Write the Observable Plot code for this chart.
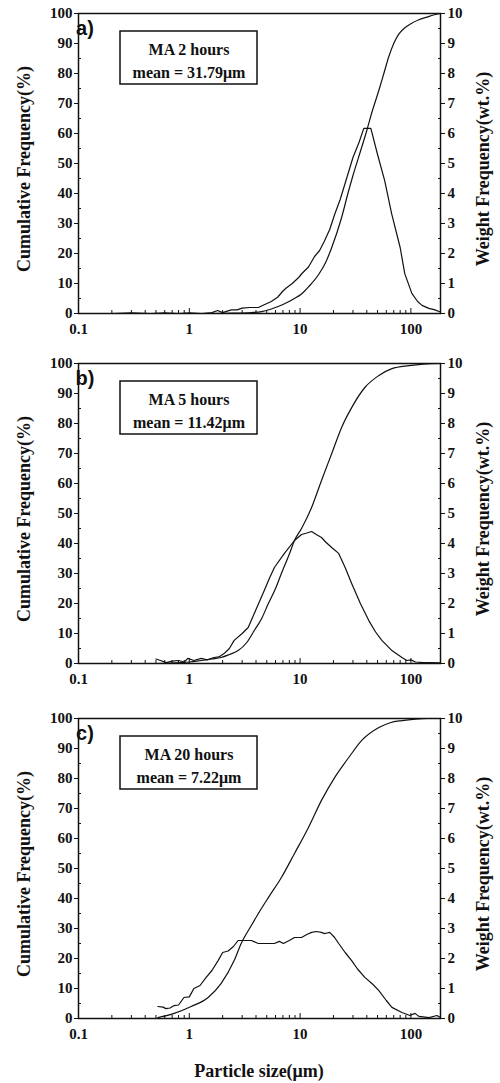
<!DOCTYPE html>
<html><head><meta charset="utf-8">
<script src="https://cdn.jsdelivr.net/npm/d3@7"></script>
<script src="https://cdn.jsdelivr.net/npm/@observablehq/plot@0.6"></script>
<style>
body{margin:0;background:#fff;}
#chart{position:relative;width:500px;height:1083px;}
#chart svg{display:block;}
</style></head><body><div id="chart"></div>
<script>
// ---- axes / ticks ----
const xDomain = [0.1, 185];
const xTicks = [0.1, 1, 10, 100];
const xMinor = [0.2,0.3,0.4,0.5,0.6,0.7,0.8,0.9,2,3,4,5,6,7,8,9,20,30,40,50,60,70,80,90];
const leftTicks = [0,10,20,30,40,50,60,70,80,90,100];
const leftMinor = [5,15,25,35,45,55,65,75,85,95];
const rightTicks = [0,1,2,3,4,5,6,7,8,9,10];

const panelLabels = ["a)", "b)", "c)"];
const panelTitles = ["MA 2 hours", "MA 5 hours", "MA 20 hours"];
const panelMeans = ["mean = 31.79\u03bcm", "mean = 11.42\u03bcm", "mean = 7.22\u03bcm"];
const yLabelLeft = "Cumulative Frequency(%)";
const yLabelRight = "Weight Frequency(wt.%)";
const xLabel = "Particle size(\u03bcm)";

// ---- panel a (2 h) ----
const cumA_x = [1.5, 2.5, 3.6, 4.5, 5.5, 7, 8.9, 10.3, 12, 14.7, 17, 19.3, 23.7, 27, 30, 35, 40, 44.4, 51, 57, 63, 70, 78, 90, 100, 118, 140, 160, 185];
const cumA_y = [0, 0.1, 0.3, 0.6, 1.5, 3, 5, 6.5, 9, 13, 17, 22, 32, 40, 46, 54, 61, 67, 74, 80, 85.5, 90, 93.2, 95.5, 96.6, 97.9, 98.8, 99.5, 100];
const wtA_x = [0.2, 0.3, 0.45, 0.6, 0.8, 1.0, 1.3, 1.6, 1.8, 2.0, 2.2, 2.4, 2.7, 3.0, 3.5, 4.2, 4.8, 5.5, 6.3, 7.0, 7.5, 8.5, 9.7, 10.5, 11.9, 13.5, 15, 16.5, 18.5, 20.5, 23, 25.3, 30, 34, 37.6, 43.5, 50, 58, 67, 80, 88, 102, 115, 126, 145, 162, 185];
const wtA_y = [0, 0.02, 0, 0.02, 0, 0.02, 0, 0.03, 0.1, 0.03, 0.08, 0.12, 0.12, 0.18, 0.2, 0.2, 0.3, 0.4, 0.55, 0.75, 0.85, 1.0, 1.2, 1.35, 1.55, 1.9, 2.1, 2.4, 2.8, 3.3, 3.8, 4.3, 5.2, 5.7, 6.17, 6.17, 5.3, 4.43, 3.33, 2.2, 1.33, 0.67, 0.4, 0.27, 0.17, 0.13, 0.05];

// ---- panel b (5 h) ----
const cumB_x = [0.5, 1.0, 1.28, 1.6, 1.94, 2.3, 2.76, 3.3, 3.86, 4.5, 5.17, 6.0, 6.78, 8.0, 8.9, 10.3, 12.7, 15.6, 19.3, 23.7, 29.2, 38.4, 51.4, 67.4, 96, 130, 185];
const cumB_y = [0, 0.5, 1, 1.5, 2, 3, 4.3, 7, 11, 15, 20, 25, 30, 36.5, 41, 45, 52, 61, 70, 78.7, 85.3, 92, 96, 98.3, 99.3, 99.8, 100];
const wtB_x = [0.5, 0.55, 0.62, 0.7, 0.8, 0.9, 0.97, 1.1, 1.28, 1.45, 1.67, 1.85, 2.06, 2.3, 2.54, 3.0, 3.4, 4.0, 4.75, 5.3, 5.86, 7.22, 8.9, 10.3, 11.5, 12.7, 14, 15.6, 17, 19.5, 22.3, 25.5, 29.2, 35, 41.7, 48, 54.7, 67.4, 83, 92, 100, 110, 130, 150, 185];
const wtB_y = [0.15, 0.1, 0.03, 0.08, 0.1, 0.05, 0.17, 0.1, 0.17, 0.12, 0.2, 0.22, 0.33, 0.5, 0.77, 1.0, 1.2, 1.8, 2.43, 2.85, 3.2, 3.67, 4.1, 4.3, 4.35, 4.4, 4.3, 4.2, 4.05, 3.85, 3.67, 3.2, 2.67, 2.0, 1.43, 1.05, 0.77, 0.43, 0.2, 0.1, 0.12, 0.05, 0.03, 0.03, 0.02];

// ---- panel c (20 h) ----
const cumC_x = [0.52, 0.73, 1.04, 1.48, 1.94, 2.54, 2.94, 3.63, 4.2, 5.17, 6.78, 8.9, 11.9, 15.6, 20.5, 27.5, 36, 51.4, 65, 83, 110, 140, 185];
const cumC_y = [0.3, 1.7, 4, 7, 11.7, 19.3, 25, 31, 35, 40.3, 47, 55, 63.7, 72.7, 80.3, 87, 92.7, 97, 98.6, 99.3, 99.8, 100, 100];
const wtC_x = [0.52, 0.58, 0.615, 0.67, 0.73, 0.8, 0.895, 1.0, 1.1, 1.25, 1.42, 1.6, 1.82, 2.0, 2.24, 2.5, 2.76, 3.0, 3.41, 3.63, 4.2, 5.0, 5.86, 6.5, 7.07, 8.0, 8.9, 10.3, 11.5, 12.7, 14, 15.6, 16.6, 17.5, 18.5, 20.5, 22.3, 25.5, 29.2, 33, 38.4, 45, 51.4, 60, 67.4, 83, 98, 109, 118, 146, 172, 184];
const wtC_y = [0.4, 0.38, 0.33, 0.35, 0.43, 0.45, 0.7, 0.72, 1.0, 1.1, 1.37, 1.6, 1.93, 2.2, 2.25, 2.4, 2.6, 2.6, 2.6, 2.6, 2.5, 2.5, 2.5, 2.57, 2.5, 2.6, 2.7, 2.7, 2.8, 2.87, 2.9, 2.87, 2.83, 2.85, 2.87, 2.7, 2.5, 2.2, 1.93, 1.65, 1.37, 1.15, 0.93, 0.6, 0.37, 0.2, 0.1, 0.17, 0.07, 0.03, 0.1, 0.03];

const SERIF = "'Liberation Serif','Times New Roman',serif";
const SANS = "'Liberation Sans',Arial,sans-serif";
const INK = "#111";
const noText = () => "";

const panels = [
  {cx: cumA_x, cy: cumA_y, wx: wtA_x, wy: wtA_y, height: 350, mt: 13, mb: 37, xlab: false},
  {cx: cumB_x, cy: cumB_y, wx: wtB_x, wy: wtB_y, height: 350, mt: 13, mb: 37, xlab: false},
  {cx: cumC_x, cy: cumC_y, wx: wtC_x, wy: wtC_y, height: 383, mt: 18, mb: 65, xlab: true}
];

const ML = 78, MR = 60, W = 500;
const host = document.getElementById("chart");

panels.forEach((p, i) => {
  const cum = p.cx.map((x, k) => ({x, v: p.cy[k]}));
  const wt = p.wx.map((x, k) => ({x, v: p.wy[k]}));
  const svg = Plot.plot({
    width: W, height: p.height,
    marginTop: p.mt, marginBottom: p.mb, marginLeft: ML, marginRight: MR,
    style: {fontFamily: SERIF, fontWeight: "bold", fontSize: "15px", color: INK, background: "#fff", overflow: "visible"},
    x: {type: "log", domain: xDomain},
    y: {domain: [0, 100]},
    marks: [
      Plot.axisX({ticks: xTicks, tickFormat: d => String(d), tickSize: 0, tickPadding: 10, label: null, fontSize: 15}),
      Plot.axisX({ticks: xTicks, tickFormat: noText, tickSize: -5, label: null}),
      Plot.axisX({ticks: xMinor, tickFormat: noText, tickSize: -3, label: null}),
      Plot.axisY({ticks: leftTicks, tickSize: 4, tickPadding: 2, label: null, fontSize: 15}),
      Plot.axisY({ticks: leftMinor, tickFormat: noText, tickSize: -3, label: null}),
      Plot.axisY({anchor: "right", ticks: rightTicks.map(v => v * 10), tickFormat: d => String(Math.round(d / 10)), tickSize: 4, tickPadding: 3, label: null, fontSize: 15}),
      Plot.axisY({anchor: "right", ticks: leftMinor, tickFormat: noText, tickSize: -3, label: null}),
      Plot.frame({stroke: INK, strokeWidth: 1.5}),
      Plot.line(cum, {x: "x", y: "v", stroke: INK, strokeWidth: 1.2, curve: "monotone-x"}),
      Plot.line(wt, {x: "x", y: d => d.v * 10, stroke: INK, strokeWidth: 1.2})
    ]
  });
  host.appendChild(svg);
  const g = d3.select(svg);
  g.selectAll("text").filter(function() { return this.textContent === ""; }).remove();
  const top = p.mt;
  const bottom = p.height - p.mb;
  const mid = (top + bottom) / 2 + 6;
  // annotation box
  g.append("rect").attr("x", 120).attr("y", top + 18).attr("width", 137).attr("height", 53)
    .attr("fill", "#fff").attr("stroke", INK).attr("stroke-width", 1.5);
  g.append("text").attr("x", 189).attr("y", top + 42).attr("text-anchor", "middle")
    .attr("font-family", SERIF).attr("font-weight", "bold").attr("font-size", 16).attr("fill", INK)
    .text(panelTitles[i]);
  g.append("text").attr("x", 189).attr("y", top + 65).attr("text-anchor", "middle")
    .attr("font-family", SERIF).attr("font-weight", "bold").attr("font-size", 16).attr("fill", INK)
    .text(panelMeans[i]);
  // panel letter
  g.append("text").attr("x", 85).attr("y", top + 22)
    .attr("font-family", SANS).attr("font-weight", "bold").attr("font-size", 20).attr("fill", INK)
    .text(panelLabels[i]);
  // y labels
  g.append("text").attr("transform", `translate(24,${mid}) rotate(-90)`).attr("text-anchor", "middle")
    .attr("dominant-baseline", "central")
    .attr("font-family", SERIF).attr("font-weight", "bold").attr("font-size", 18).attr("fill", INK)
    .text(yLabelLeft);
  g.append("text").attr("transform", `translate(483,${mid}) rotate(-90)`).attr("text-anchor", "middle")
    .attr("dominant-baseline", "central")
    .attr("font-family", SERIF).attr("font-weight", "bold").attr("font-size", 18).attr("fill", INK)
    .text(yLabelRight);
  if (p.xlab) {
    g.append("text").attr("x", (ML + W - MR) / 2).attr("y", p.height - 6).attr("text-anchor", "middle")
      .attr("font-family", SERIF).attr("font-weight", "bold").attr("font-size", 18).attr("fill", INK)
      .text(xLabel);
  }
});
</script></body></html>
